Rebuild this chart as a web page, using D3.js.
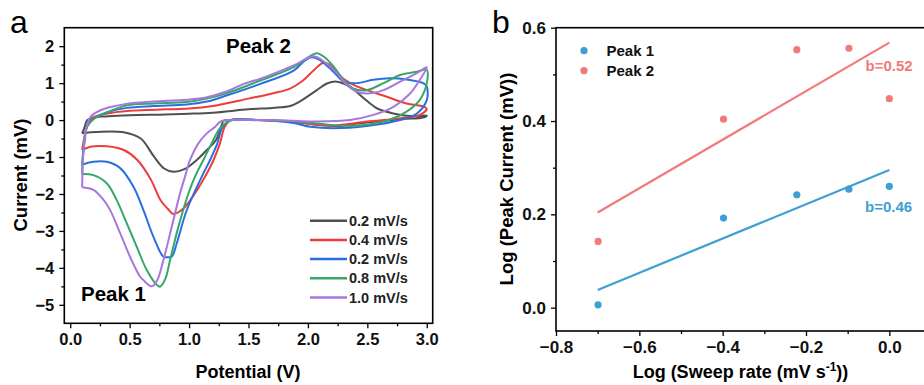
<!DOCTYPE html>
<html>
<head>
<meta charset="utf-8">
<script src="https://cdn.jsdelivr.net/npm/d3@7"></script>
<style>
  body { margin: 0; background: #fff; }
  text { font-family: Arial, "Liberation Sans", sans-serif; }
</style>
</head>
<body>
<svg id="chart" width="924" height="385"></svg>
<script>
// ---- panel a: CV loops [potential V, current mV] ----
const cvLabels = ["0.2 mV/s", "0.4 mV/s", "0.2 mV/s", "0.8 mV/s", "1.0 mV/s"];
const cvColors = ["#505050", "#ef3b3b", "#2a6fe0", "#35a766", "#a877de"];

const cvGray = [[0.1,-0.36],[0.12,-0.2],[0.144,0.0],[0.23,0.09],[0.3,0.1],[0.5,0.13],[0.8,0.15],[1.0,0.17],[1.2,0.2],[1.5,0.29],[1.7,0.33],[1.85,0.38],[1.93,0.5],[2.075,0.81],[2.16,0.99],[2.243,1.04],[2.355,0.9],[2.47,0.59],[2.58,0.32],[2.72,0.18],[2.86,0.11],[3.0,0.12],
  [2.97,0.07],[2.8,0.03],[2.6,-0.03],[2.4,-0.1],[2.25,-0.16],[2.1,-0.13],[1.9,-0.05],[1.7,-0.01],[1.5,0.0],[1.35,0.0],[1.29,-0.02],[1.275,-0.13],[1.227,-0.54],[1.149,-0.81],[1.065,-1.08],[0.96,-1.33],[0.87,-1.40],[0.79,-1.31],[0.705,-0.99],[0.593,-0.5],[0.45,-0.33],[0.17,-0.33],[0.1,-0.36]];

const cvRed = [[0.1,-0.81],[0.12,-0.45],[0.15,-0.1],[0.2,0.08],[0.3,0.17],[0.5,0.25],[0.8,0.29],[1.0,0.31],[1.2,0.38],[1.5,0.58],[1.7,0.72],[1.85,0.85],[1.95,1.05],[2.05,1.35],[2.13,1.55],[2.18,1.5],[2.243,1.27],[2.355,1.0],[2.496,0.81],[2.664,0.63],[2.83,0.45],[2.98,0.36],[3.0,0.3],
  [2.94,0.14],[2.776,0.05],[2.5,-0.04],[2.3,-0.12],[2.2,-0.15],[2.05,-0.12],[1.9,-0.05],[1.7,-0.01],[1.5,0],[1.35,0],[1.30,-0.18],[1.26,-0.63],[1.206,-1.08],[1.135,-1.53],[1.05,-1.98],[0.95,-2.4],[0.868,-2.54],[0.82,-2.4],[0.76,-2.17],[0.68,-1.62],[0.565,-1.08],[0.45,-0.81],[0.31,-0.71],[0.17,-0.72],[0.1,-0.81]];

const cvBlue = [[0.1,-1.22],[0.12,-0.6],[0.15,-0.1],[0.22,0.08],[0.3,0.2],[0.48,0.33],[0.7,0.38],[0.98,0.42],[1.15,0.5],[1.32,0.67],[1.6,0.98],[1.88,1.34],[1.97,1.6],[2.03,1.70],[2.09,1.64],[2.215,1.31],[2.30,1.04],[2.41,1.0],[2.55,1.09],[2.69,1.13],[2.83,1.10],[2.97,1.0],[3.0,0.91],
  [3.0,0.54],[2.917,0.18],[2.776,0.0],[2.496,-0.16],[2.215,-0.22],[2.02,-0.18],[1.88,-0.08],[1.6,0],[1.35,0],[1.28,-0.2],[1.238,-0.63],[1.177,-1.08],[1.107,-1.53],[0.98,-2.44],[0.896,-3.34],[0.854,-3.70],[0.82,-3.71],[0.784,-3.70],[0.70,-3.16],[0.615,-2.43],[0.531,-1.80],[0.42,-1.30],[0.307,-1.13],[0.195,-1.13],[0.11,-1.2],[0.1,-1.22]];

const cvGreen = [[0.1,-1.46],[0.11,-0.8],[0.14,-0.19],[0.2,0.04],[0.28,0.17],[0.48,0.40],[0.7,0.45],[0.98,0.49],[1.15,0.58],[1.32,0.73],[1.6,1.07],[1.88,1.43],[1.98,1.65],[2.075,1.81],[2.14,1.7],[2.215,1.45],[2.30,1.09],[2.38,0.86],[2.496,0.81],[2.636,1.0],[2.776,1.22],[2.917,1.31],[3.0,1.36],
  [3.0,1.0],[2.94,0.54],[2.83,0.23],[2.636,-0.04],[2.355,-0.16],[2.075,-0.09],[1.88,-0.03],[1.6,0],[1.37,0],[1.32,-0.06],[1.26,-0.22],[1.19,-0.63],[1.12,-1.08],[1.05,-1.53],[0.995,-1.98],[0.91,-2.89],[0.84,-3.79],[0.80,-4.3],[0.756,-4.51],[0.728,-4.46],[0.644,-4.06],[0.56,-3.43],[0.475,-2.79],[0.39,-2.16],[0.307,-1.71],[0.195,-1.49],[0.1,-1.46]];

const cvPurple = [[0.1,-1.82],[0.105,-1.2],[0.11,-0.91],[0.13,-0.3],[0.17,0.08],[0.25,0.26],[0.48,0.44],[0.7,0.5],[0.98,0.55],[1.15,0.62],[1.32,0.78],[1.46,0.98],[1.6,1.12],[1.88,1.48],[2.046,1.73],[2.12,1.62],[2.243,1.27],[2.327,0.95],[2.41,0.77],[2.496,0.72],[2.636,0.81],[2.776,1.04],[2.917,1.27],[3.0,1.43],
  [2.94,1.08],[2.86,0.72],[2.72,0.36],[2.55,0.14],[2.355,0.0],[2.075,-0.04],[1.88,-0.02],[1.6,0],[1.32,0],[1.26,-0.05],[1.22,-0.18],[1.149,-0.36],[1.078,-0.63],[1.008,-1.08],[0.966,-1.53],[0.924,-1.98],[0.854,-2.89],[0.784,-3.79],[0.73,-4.35],[0.686,-4.5],[0.615,-4.33],[0.588,-4.24],[0.503,-3.70],[0.42,-3.06],[0.335,-2.43],[0.28,-2.16],[0.195,-1.89],[0.1,-1.82]];

const cvSeries = [cvGray, cvRed, cvBlue, cvGreen, cvPurple];
const aXTicks = [0, 0.5, 1.0, 1.5, 2.0, 2.5, 3.0];
const aYTicks = [-5, -4, -3, -2, -1, 0, 1, 2];

// ---- panel b: log peak current vs log sweep rate ----
const logRate = [-0.699, -0.398, -0.222, -0.097, 0];
const peak1 = [0.006, 0.192, 0.242, 0.254, 0.26];
const peak2 = [0.142, 0.404, 0.553, 0.556, 0.448];
const fitX = [-0.7, 0];
const fit1 = [0.038, 0.295];
const fit2 = [0.204, 0.568];
const bLabels = ["Peak 1", "Peak 2"];
const bColors = ["#3d9fd3", "#f27a7a"];
const bXTicks = [-0.8, -0.6, -0.4, -0.2, 0.0];
const bYTicks = [0.0, 0.2, 0.4, 0.6];

const svg = d3.select("#chart");
svg.append("rect").attr("width", 924).attr("height", 385).attr("fill", "#fff");

function drawAxes(g, x, y, xt, xminor, yt, yminor, fmtX, fmtY, fs) {
    const [x0, x1] = x.range(), [y0, y1] = y.range();
    // minor ticks
    g.append("g").attr("transform", `translate(0,${y0})`)
        .call(d3.axisBottom(x).tickValues(xminor).tickSize(3).tickFormat("").tickSizeOuter(0))
        .call(s => s.select(".domain").remove());
    g.append("g").attr("transform", `translate(${x0},0)`)
        .call(d3.axisLeft(y).tickValues(yminor).tickSize(3).tickFormat("").tickSizeOuter(0))
        .call(s => s.select(".domain").remove());
    // major ticks
    g.append("g").attr("class", "xa").attr("transform", `translate(0,${y0})`)
        .call(d3.axisBottom(x).tickValues(xt).tickSize(5).tickPadding(5).tickFormat(fmtX).tickSizeOuter(0))
        .call(s => s.select(".domain").remove());
    g.append("g").attr("class", "ya").attr("transform", `translate(${x0},0)`)
        .call(d3.axisLeft(y).tickValues(yt).tickSize(5).tickPadding(5).tickFormat(fmtY).tickSizeOuter(0))
        .call(s => s.select(".domain").remove());
    g.selectAll(".tick line").attr("stroke", "#000").attr("stroke-width", 1.3);
    g.selectAll(".tick text").attr("fill", "#111").style("font-size", fs + "px")
        .style("font-weight", "bold").style("font-family", "Arial, 'Liberation Sans', sans-serif");
    g.append("rect").attr("x", x0).attr("y", y1).attr("width", x1 - x0).attr("height", y0 - y1)
        .attr("fill", "none").attr("stroke", "#000").attr("stroke-width", 1.6);
}

// panel a
const xa = d3.scaleLinear().domain([-0.05, 3.05]).range([64.3, 432.7]);
const ya = d3.scaleLinear().domain([-5.5, 2.5]).range([323.3, 27.7]);
const ga = svg.append("g");

const cvLine = d3.line().x(d => xa(d[0])).y(d => ya(d[1])).curve(d3.curveCatmullRom.alpha(0.5));
cvSeries.forEach((s, i) => {
    ga.append("path").datum(s).attr("d", cvLine)
      .attr("fill", "none").attr("stroke", cvColors[i]).attr("stroke-width", 2)
      .attr("stroke-linejoin", "round");
});

drawAxes(ga, xa, ya, aXTicks, d3.range(0.25, 3, 0.5), aYTicks, d3.range(-4.5, 2, 1),
    d3.format(".1f"), d3.format("d"), 16.5);

// legend a
cvLabels.forEach((t, i) => {
    const ly = 220.7 + i * 19.2;
    ga.append("line").attr("x1", 310).attr("x2", 347).attr("y1", ly).attr("y2", ly)
      .attr("stroke", cvColors[i]).attr("stroke-width", 2.5);
    ga.append("text").attr("x", 349).attr("y", ly).attr("dy", "0.35em")
      .attr("font-size", 14.5).attr("font-weight", "bold").attr("fill", "#222").text(t);
});

ga.append("text").attr("x", 226).attr("y", 53).attr("font-size", 20.5).attr("font-weight", "bold").text("Peak 2");
ga.append("text").attr("x", 81).attr("y", 301).attr("font-size", 20.5).attr("font-weight", "bold").text("Peak 1");
ga.append("text").attr("x", 10).attr("y", 33).attr("font-size", 32).text("a");
ga.append("text").attr("x", 248).attr("y", 372).attr("dy", "0.35em").attr("text-anchor", "middle")
  .attr("font-size", 18).attr("font-weight", "bold").text("Potential (V)");
ga.append("text").attr("transform", "translate(21,175) rotate(-90)").attr("dy", "0.35em")
  .attr("text-anchor", "middle").attr("font-size", 18.5).attr("font-weight", "bold").text("Current (mV)");

// panel b
const xb = d3.scaleLinear().domain([-0.8, 0.1]).range([556, 931]);
const yb = d3.scaleLinear().domain([-0.05, 0.6]).range([331, 27.7]);
const gb = svg.append("g");

drawAxes(gb, xb, yb, bXTicks, [-0.7, -0.5, -0.3, -0.1], bYTicks, [0.1, 0.3, 0.5],
    d3.format(".1f"), d3.format(".1f"), 17);

[[fit1, 0], [fit2, 1]].forEach(([f, i]) => {
    gb.append("line").attr("x1", xb(fitX[0])).attr("x2", xb(fitX[1]))
      .attr("y1", yb(f[0])).attr("y2", yb(f[1]))
      .attr("stroke", bColors[i]).attr("stroke-width", 2.2);
});
[peak1, peak2].forEach((vals, i) => {
    gb.selectAll(null).data(vals).enter().append("circle")
      .attr("cx", (d, j) => xb(logRate[j])).attr("cy", d => yb(d)).attr("r", 3.6)
      .attr("fill", bColors[i]);
});

bLabels.forEach((t, i) => {
    const ly = 50.7 + i * 20;
    gb.append("circle").attr("cx", 584).attr("cy", ly).attr("r", 3.6).attr("fill", bColors[i]);
    gb.append("text").attr("x", 606.5).attr("y", ly).attr("dy", "0.35em")
      .attr("font-size", 15).attr("font-weight", "bold").attr("fill", "#111").text(t);
});

gb.append("text").attr("x", 865.5).attr("y", 66).attr("dy", "0.35em").attr("font-size", 15)
  .attr("font-weight", "bold").attr("fill", bColors[1]).text("b=0.52");
gb.append("text").attr("x", 865).attr("y", 206.7).attr("dy", "0.35em").attr("font-size", 15)
  .attr("font-weight", "bold").attr("fill", bColors[0]).text("b=0.46");

gb.append("text").attr("x", 492).attr("y", 33).attr("font-size", 32).text("b");
const xt = gb.append("text").attr("x", 740.5).attr("y", 372).attr("dy", "0.35em").attr("text-anchor", "middle")
  .attr("font-size", 18).attr("font-weight", "bold");
xt.append("tspan").text("Log (Sweep rate (mV s");
xt.append("tspan").attr("dy", -7).attr("font-size", 12).text("-1");
xt.append("tspan").attr("dy", 7).text("))");
gb.append("text").attr("transform", "translate(507,179) rotate(-90)").attr("dy", "0.35em")
  .attr("text-anchor", "middle").attr("font-size", 18.5).attr("font-weight", "bold").text("Log (Peak Current (mV))");
</script>
</body>
</html>
